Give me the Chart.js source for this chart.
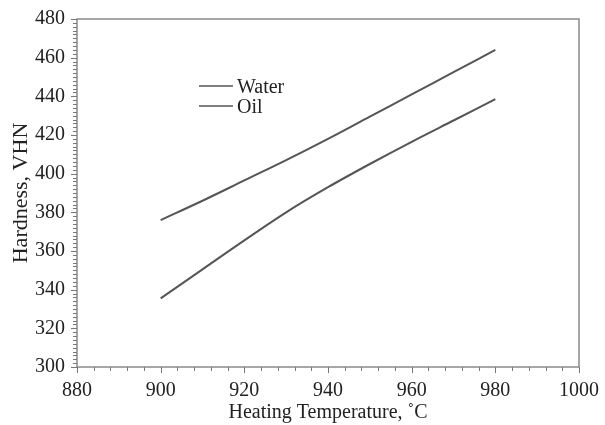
<!DOCTYPE html>
<html>
<head>
<meta charset="utf-8">
<script src="https://cdn.jsdelivr.net/npm/chart.js@4"></script>
<style>
  html, body { margin: 0; padding: 0; background: #fff; }
  #wrap { width: 605px; height: 425px; }
</style>
</head>
<body>
<div id="wrap"><canvas id="hardnessChart" width="605" height="425"></canvas></div>
<script>
// Datos
const temps = [900, 910, 920, 930, 940, 950, 960, 970, 980];
const waterHardness = [376, 386, 396.5, 407, 418, 429.5, 441, 452.5, 464];
const oilHardness = [335.5, 350.5, 365.5, 380, 393, 405, 416.5, 427.5, 438.5];
const seriesNames = ['Water', 'Oil'];
const xTicks = [880, 900, 920, 940, 960, 980, 1000];
const yTicks = [300, 320, 340, 360, 380, 400, 420, 440, 460, 480];

const serif = 'Liberation Serif, Times New Roman, serif';
const lineColor = '#555555';
const frameColor = '#8a8a8a';

// marco, marcas menores y leyenda
const framePlugin = {
  id: 'frame',
  afterDraw(chart) {
    const ctx = chart.ctx;
    const area = chart.chartArea;
    const xs = chart.scales.x;
    const ys = chart.scales.y;
    ctx.save();
    ctx.strokeStyle = frameColor;
    ctx.lineWidth = 1.5;
    ctx.strokeRect(area.left, area.top, area.right - area.left, area.bottom - area.top);

    ctx.lineWidth = 1;
    ctx.strokeStyle = '#777';
    ctx.beginPath();
    for (let v = xTicks[0]; v <= xTicks[xTicks.length - 1]; v += 4) {
      const px = Math.round(xs.getPixelForValue(v)) + 0.5;
      const len = v % 20 === 0 ? 6 : 4;
      ctx.moveTo(px, area.bottom);
      ctx.lineTo(px, area.bottom + len);
    }
    for (let v = yTicks[0]; v <= yTicks[yTicks.length - 1]; v += 2) {
      const py = Math.round(ys.getPixelForValue(v)) + 0.5;
      const len = v % 20 === 0 ? 6 : 4;
      ctx.moveTo(area.left, py);
      ctx.lineTo(area.left - len, py);
    }
    ctx.stroke();

    // leyenda
    ctx.font = '20px ' + serif;
    ctx.fillStyle = '#222';
    ctx.textBaseline = 'alphabetic';
    chart.data.datasets.forEach((ds, i) => {
      const y = 86 + i * 20;
      ctx.strokeStyle = ds.borderColor;
      ctx.lineWidth = 1.5;
      ctx.beginPath();
      ctx.moveTo(199, y);
      ctx.lineTo(233, y);
      ctx.stroke();
      ctx.fillText(ds.label, 237, y + 7);
    });
    ctx.restore();
  }
};

const canvas = document.getElementById('hardnessChart');
new Chart(canvas.getContext('2d'), {
  type: 'line',
  data: {
    datasets: [
      {
        label: seriesNames[0],
        data: temps.map((t, i) => ({ x: t, y: waterHardness[i] })),
        borderColor: lineColor,
        borderWidth: 2,
        pointRadius: 0,
        tension: 0.4,
        cubicInterpolationMode: 'monotone',
        fill: false
      },
      {
        label: seriesNames[1],
        data: temps.map((t, i) => ({ x: t, y: oilHardness[i] })),
        borderColor: lineColor,
        borderWidth: 2,
        pointRadius: 0,
        tension: 0.4,
        cubicInterpolationMode: 'monotone',
        fill: false
      }
    ]
  },
  options: {
    responsive: false,
    animation: false,
    layout: { padding: { top: 19, right: 23, left: 0, bottom: 0 } },
    plugins: {
      legend: { display: false },
      tooltip: { enabled: false }
    },
    scales: {
      x: {
        type: 'linear',
        min: xTicks[0],
        max: xTicks[xTicks.length - 1],
        afterBuildTicks: (scale) => { scale.ticks = xTicks.map(v => ({ value: v })); },
        afterFit: (scale) => { scale.height = 58; },
        grid: { drawOnChartArea: false, tickLength: 6, tickColor: 'transparent' },
        border: { display: false },
        ticks: {
          color: '#222',
          font: { family: serif, size: 20 },
          padding: 6,
          maxRotation: 0,
          callback: (v) => String(v)
        },
        title: {
          display: true,
          text: 'Heating Temperature, ˚C',
          color: '#222',
          font: { family: serif, size: 20 },
          padding: { top: 0, bottom: 0 }
        }
      },
      y: {
        min: yTicks[0],
        max: yTicks[yTicks.length - 1],
        afterBuildTicks: (scale) => { scale.ticks = yTicks.map(v => ({ value: v })); },
        afterFit: (scale) => { scale.width = 77; },
        grid: { drawOnChartArea: false, tickLength: 6, tickColor: 'transparent' },
        border: { display: false },
        ticks: {
          color: '#222',
          font: { family: serif, size: 20 },
          padding: 6,
          callback: (v) => String(v)
        },
        title: {
          display: true,
          text: 'Hardness, VHN',
          color: '#222',
          font: { family: serif, size: 22 },
          padding: { top: 8, bottom: 4 }
        }
      }
    }
  },
  plugins: [framePlugin]
});
</script>
</body>
</html>
